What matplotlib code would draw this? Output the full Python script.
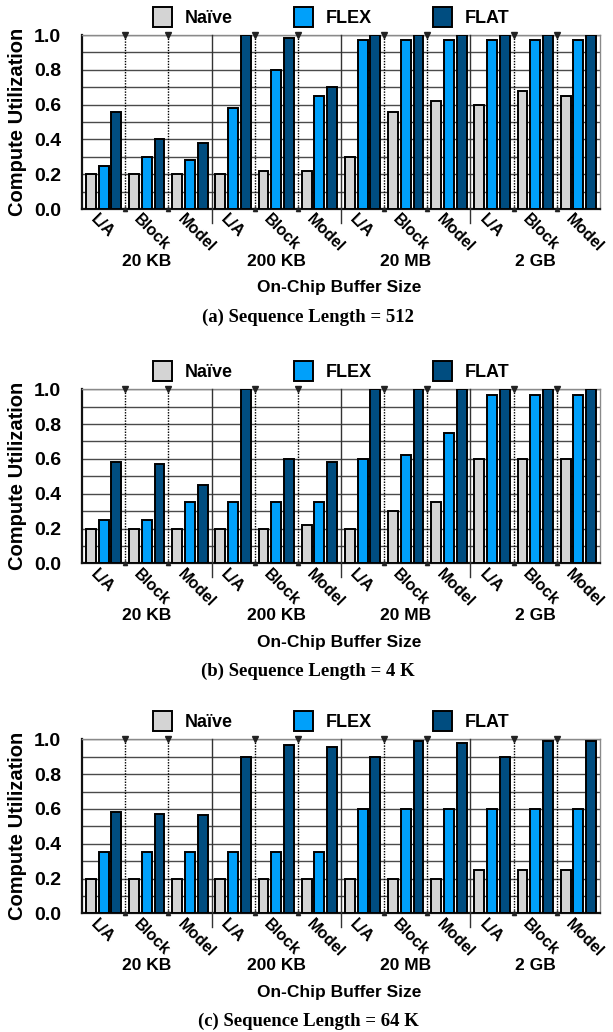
import matplotlib
matplotlib.use("Agg")
import matplotlib.pyplot as plt
import matplotlib.transforms as mtransforms
import numpy as np

plt.rcParams['font.family'] = ['Liberation Sans', 'DejaVu Sans']
plt.rcParams['font.weight'] = 'bold'

buffers = ["20 KB", "200 KB", "20 MB", "2 GB"]
levels = ["L/A", "Block", "Model"]
series = ["Naïve", "FLEX", "FLAT"]
colors = ["#d4d4d4", "#00a0fa", "#004d80"]
captions = ["(a) Sequence Length = 512", "(b) Sequence Length = 4 K",
            "(c) Sequence Length = 64 K"]

# (a) seq 512
naive_512 = [0.20, 0.20, 0.20, 0.20, 0.22, 0.22, 0.30, 0.56, 0.62, 0.60, 0.68, 0.65]
flex_512 = [0.25, 0.30, 0.28, 0.58, 0.80, 0.65, 0.97, 0.97, 0.97, 0.97, 0.97, 0.97]
flat_512 = [0.56, 0.40, 0.38, 1.00, 0.98, 0.70, 1.00, 1.00, 1.00, 1.00, 1.00, 1.00]
# (b) seq 4K
naive_4k = [0.20, 0.20, 0.20, 0.20, 0.20, 0.22, 0.20, 0.30, 0.35, 0.60, 0.60, 0.60]
flex_4k = [0.25, 0.25, 0.35, 0.35, 0.35, 0.35, 0.60, 0.62, 0.75, 0.97, 0.97, 0.97]
flat_4k = [0.58, 0.57, 0.45, 1.00, 0.60, 0.58, 1.00, 1.00, 1.00, 1.00, 1.00, 1.00]
# (c) seq 64K
naive_64k = [0.20, 0.20, 0.20, 0.20, 0.20, 0.20, 0.20, 0.20, 0.20, 0.25, 0.25, 0.25]
flex_64k = [0.35, 0.35, 0.35, 0.35, 0.35, 0.35, 0.60, 0.60, 0.60, 0.60, 0.60, 0.60]
flat_64k = [0.58, 0.57, 0.565, 0.90, 0.97, 0.955, 0.90, 0.99, 0.98, 0.90, 0.99, 0.99]

panels = [(naive_512, flex_512, flat_512),
          (naive_4k, flex_4k, flat_4k),
          (naive_64k, flex_64k, flat_64k)]

W, H = 613, 1032
fig = plt.figure(figsize=(W / 100, H / 100), dpi=100)

ax_left, ax_w, ax_h = 82, 518, 174
tops = [35, 389.3, 739.3]


def draw_panel(ax, vals, caption, bottom_px):
    n = len(vals[0])
    x = np.arange(n)
    offs = [-0.295, 0.0, 0.295]
    for k in range(3):
        ax.bar(x + offs[k], vals[k], width=0.23, color=colors[k],
               edgecolor="black", linewidth=1.4, zorder=3, label=series[k])

    ax.set_xlim(-0.5, n - 0.5)
    ax.set_ylim(0, 1.0)
    ax.set_yticks(np.arange(0, 1.01, 0.2))
    ax.set_yticklabels(["%.1f" % v for v in np.arange(0, 1.01, 0.2)],
                       fontsize=14, fontweight="bold")
    ax.set_yticks(np.arange(0.1, 1.0, 0.2), minor=True)
    ax.yaxis.grid(True, which="both", color="#4a4a4a", linewidth=1.0, zorder=0)
    ax.tick_params(axis="y", which="both", length=0, pad=15)

    ax.set_xticks(x)
    ax.set_xticklabels(levels * len(buffers), rotation=-45, ha="left",
                       rotation_mode="anchor", fontsize=11.5, fontweight="bold")
    ax.tick_params(axis="x", length=0, pad=2)
    shift = mtransforms.ScaledTranslation(-5 / 100, 0, fig.dpi_scale_trans)
    for lab in ax.get_xticklabels():
        lab.set_transform(lab.get_transform() + shift)

    for s in ["left", "bottom"]:
        ax.spines[s].set_color("#111111")
        ax.spines[s].set_linewidth(1.6)
    for s in ["top", "right"]:
        ax.spines[s].set_color("#8a8a8a")
        ax.spines[s].set_linewidth(1.0)

    trans = mtransforms.blended_transform_factory(ax.transData, ax.transAxes)
    # dotted separators inside a buffer group
    for g in range(len(buffers)):
        for j in (0.5, 1.5):
            xs = g * 3 + j
            ax.plot([xs, xs], [0, 1], transform=trans, color="black",
                    linestyle=(0, (1, 1)), linewidth=1.0, zorder=4)
            ax.plot([xs], [1], transform=trans, marker="v", markersize=4,
                    color="#222222", clip_on=False, zorder=5)
            ax.plot([xs], [0], transform=trans, marker="^", markersize=3,
                    color="#222222", clip_on=False, zorder=5)
    # solid separators between buffer groups
    for g in range(1, len(buffers)):
        xs = g * 3 - 0.5
        ax.plot([xs, xs], [-14 / ax_h, 1], transform=trans, color="#333333",
                linewidth=1.0, clip_on=False, zorder=4)

    for g, name in enumerate(buffers):
        ax.text(g * 3 + 1, -52.5 / ax_h, name, transform=trans, ha="center",
                va="center", fontsize=12.5, fontweight="bold")

    ax.text((339 - ax_left) / ax_w, -78.7 / ax_h, "On-Chip Buffer Size",
            transform=ax.transAxes, ha="center", va="center",
            fontsize=12.5, fontweight="bold")

    leg = ax.legend(loc="center", bbox_to_anchor=((331 - ax_left) / ax_w, 1 + 18 / ax_h),
                    ncol=3, frameon=False, fontsize=13, handlelength=1.05,
                    handleheight=1.3, handletextpad=0.7, columnspacing=3.4,
                    borderpad=0, borderaxespad=0)
    for t in leg.get_texts():
        t.set_fontweight("bold")

    fig.text(308 / W, 1 - (bottom_px + 108.5) / H, caption, ha="center",
             va="center", fontsize=13.5, fontweight="bold",
             family=["Liberation Serif", "DejaVu Serif"])

    fig.text(18 / W, 1 - (bottom_px - ax_h / 2) / H, "Compute Utilization",
             rotation=90, ha="center", va="center", fontsize=14.5,
             fontweight="bold")


for i in range(3):
    top = tops[i]
    bottom_px = top + ax_h
    ax = fig.add_axes([ax_left / W, 1 - bottom_px / H, ax_w / W, ax_h / H])
    draw_panel(ax, panels[i], captions[i], bottom_px)

fig.savefig("out.png", dpi=100)
